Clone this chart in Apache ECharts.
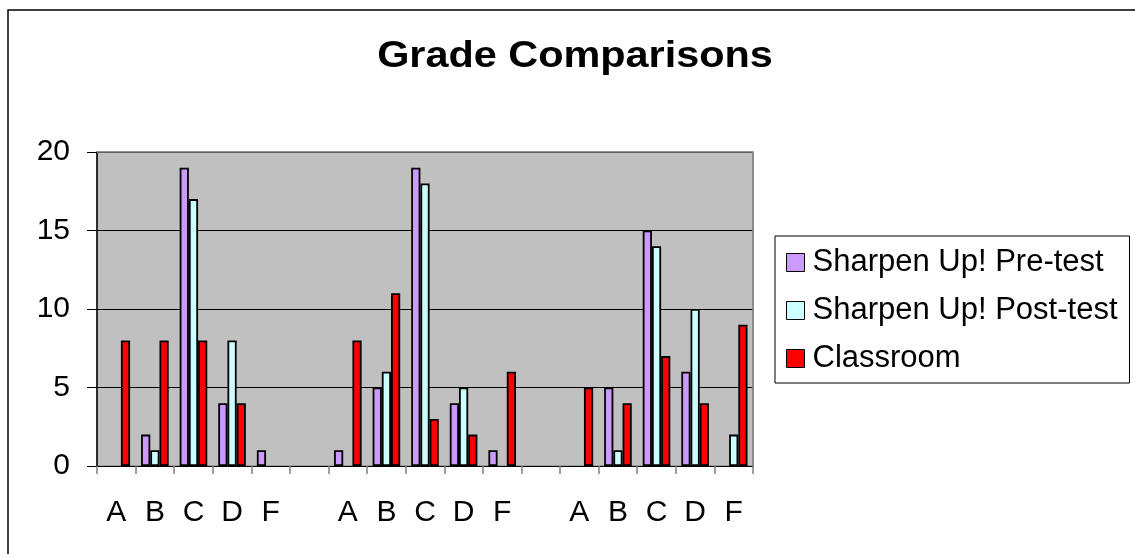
<!DOCTYPE html>
<html>
<head>
<meta charset="utf-8">
<title>Grade Comparisons</title>
<script src="https://cdn.jsdelivr.net/npm/echarts@6/dist/echarts.min.js"></script>
<style>
  html, body { margin: 0; padding: 0; background: #fff; }
  #chart { width: 1135px; height: 554px; }
</style>
</head>
<body>
<div id="chart"></div>
<script>
// Grade letters for three groups, with an empty spacer slot between groups
const categories = [
  'A', 'B', 'C', 'D', 'F', '',
  'A', 'B', 'C', 'D', 'F', '',
  'A', 'B', 'C', 'D', 'F'
];

// Counts per grade (spacer slots are null)
const preTest   = [0, 2, 19, 4, 1, null, 1, 5, 19, 4, 1, null, 0, 5, 15, 6, 0];
const postTest  = [0, 1, 17, 8, 0, null, 0, 6, 18, 5, 0, null, 0, 1, 14, 10, 2];
const classroom = [8, 8, 8, 4, 0, null, 8, 11, 3, 2, 6, null, 5, 4, 7, 4, 9];

const seriesNames = ['Sharpen Up! Pre-test', 'Sharpen Up! Post-test', 'Classroom'];
const seriesColors = ['#CC99FF', '#CCFFFF', '#FF0000'];
const yTicks = { min: 0, max: 20, interval: 5 };
const chartTitle = 'Grade Comparisons';

// Plot-area frame
const G = { left: 97, top: 152, width: 656, height: 314 };
const FONT = 'Arial, "Liberation Sans", sans-serif';

const chart = echarts.init(document.getElementById('chart'), null, { renderer: 'canvas' });

// zero counts leave an empty slot instead of a flat outlined sliver
const barValues = arr => arr.map(v => (v === 0 || v === null) ? '-' : v);

const makeSeries = (name, data, color) => ({
  name: name,
  type: 'bar',
  data: barValues(data),
  barWidth: 9.2,
  barGap: '0%',
  itemStyle: { color: color, borderColor: '#000', borderWidth: 1.8 },
  emphasis: { disabled: true }
});

chart.setOption({
  animation: false,
  backgroundColor: '#fff',
  legend: {
    orient: 'vertical',
    left: 775,
    top: 236,
    padding: [11, 12, 9, 11],
    itemGap: 17,
    itemWidth: 18,
    itemHeight: 18,
    backgroundColor: '#fff',
    borderColor: '#000',
    borderWidth: 1,
    borderRadius: 0,
    icon: 'rect',
    selectedMode: false,
    itemStyle: { borderColor: '#000', borderWidth: 1 },
    textStyle: { fontFamily: FONT, fontSize: 31, color: '#000', padding: [0, 0, 0, 3] },
    data: seriesNames
  },
  grid: {
    left: G.left, top: G.top, width: G.width, height: G.height,
    show: true,
    backgroundColor: '#C0C0C0',
    borderColor: '#808080',
    borderWidth: 1
  },
  xAxis: {
    type: 'category',
    data: categories,
    boundaryGap: true,
    axisLine: { show: true, lineStyle: { color: '#000', width: 1 } },
    axisTick: { show: true, length: 8, interval: 0, lineStyle: { color: '#808080', width: 1.5 } },
    axisLabel: {
      interval: 0,
      margin: 32,
      fontFamily: FONT,
      fontSize: 30,
      color: '#000'
    },
    splitLine: { show: false }
  },
  yAxis: {
    type: 'value',
    min: yTicks.min,
    max: yTicks.max,
    interval: yTicks.interval,
    axisLine: { show: true, lineStyle: { color: '#000', width: 1.5 } },
    axisTick: { show: true, length: 10, lineStyle: { color: '#000', width: 1 } },
    axisLabel: { margin: 27, fontFamily: FONT, fontSize: 30, color: '#000' },
    splitLine: { show: true, lineStyle: { color: '#000', width: 1 } }
  },
  graphic: [
    // outer chart frame
    {
      type: 'rect', z: 0, silent: true,
      shape: { x: 8, y: 10, width: 1300, height: 700 },
      style: { fill: null, stroke: '#000', lineWidth: 1.5 }
    },
    // chart title, set slightly wide
    {
      type: 'text', z: 100, silent: true,
      x: 575, y: 57, scaleX: 1.15, scaleY: 1,
      style: {
        text: chartTitle,
        fontFamily: FONT, fontSize: 36, fontWeight: 'bold', fill: '#000',
        align: 'center', verticalAlign: 'middle'
      }
    },
    // grey top/right edges of the plot area
    {
      type: 'polyline', z: 100, silent: true,
      shape: { points: [[G.left, G.top], [G.left + G.width, G.top], [G.left + G.width, G.top + G.height]] },
      style: { fill: null, stroke: '#808080', lineWidth: 1.5 }
    }
  ],
  series: [
    makeSeries(seriesNames[0], preTest, seriesColors[0]),
    makeSeries(seriesNames[1], postTest, seriesColors[1]),
    makeSeries(seriesNames[2], classroom, seriesColors[2])
  ]
});
</script>
</body>
</html>
